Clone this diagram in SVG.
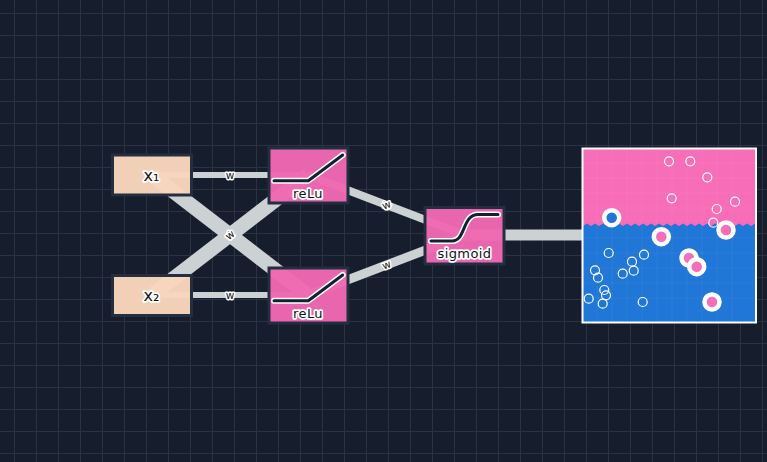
<svg xmlns="http://www.w3.org/2000/svg" width="767" height="462" viewBox="0 0 767 462">
<style>
.bg{fill:#161d2d}
.grid{stroke:#2a3243;stroke-width:1;fill:none}
.c{stroke:#ccd2d3;fill:none}
.n{stroke:#232f40;stroke-width:3}
.input{fill:#f9d6bc;fill-opacity:.97}
.act{fill:#ef68b2;fill-opacity:.97}
.curve{fill:none;stroke-linecap:round;stroke-linejoin:round}
.h{stroke:#fff;stroke-width:6}
.k{stroke:#162033;stroke-width:3}
text{font-family:"DejaVu Sans",sans-serif;fill:#111;text-anchor:middle;paint-order:stroke;stroke:#fff;stroke-linejoin:round}
.t{font-size:13px;stroke-width:3.500;letter-spacing:.4px}
.x{font-size:16px;stroke-width:3.500}
.w{font-size:10.500px;stroke-width:3}
.pt{fill:none;stroke:#fff;stroke-width:1.200}
.big{stroke:#fff;stroke-width:4.500}
.pk{fill:#f76db8}
.bl{fill:#2077d8}
.ig{stroke:#fff;stroke-opacity:.05;stroke-width:1;fill:none}
</style>
<rect class="bg" width="767" height="462"/>
<path class="grid" d="M14.500 0V462M36.500 0V462M58.500 0V462M80.500 0V462M102.500 0V462M124.500 0V462M146.500 0V462M168.500 0V462M190.500 0V462M212.500 0V462M234.500 0V462M256.500 0V462M278.500 0V462M300.500 0V462M322.500 0V462M344.500 0V462M366.500 0V462M388.500 0V462M410.500 0V462M432.500 0V462M454.500 0V462M476.500 0V462M498.500 0V462M520.500 0V462M542.500 0V462M564.500 0V462M586.500 0V462M608.500 0V462M630.500 0V462M652.500 0V462M674.500 0V462M696.500 0V462M718.500 0V462M740.500 0V462M762.500 0V462M0 13.500H767M0 35.500H767M0 57.500H767M0 79.500H767M0 101.500H767M0 123.500H767M0 145.500H767M0 167.500H767M0 189.500H767M0 211.500H767M0 233.500H767M0 255.500H767M0 277.500H767M0 299.500H767M0 321.500H767M0 343.500H767M0 365.500H767M0 387.500H767M0 409.500H767M0 431.500H767M0 453.500H767"/>
<g id="connectors">
<path class="c" stroke-width="6" d="M152 175H308"/>
<path class="c" stroke-width="14.600" d="M152 175L308 295"/>
<path class="c" stroke-width="14.600" d="M152 295L308 175"/>
<path class="c" stroke-width="6" d="M152 295H308"/>
<path class="c" stroke-width="7.800" d="M308 175L465 235"/>
<path class="c" stroke-width="9" d="M308 295L465 235"/>
<path class="c" stroke-width="11" d="M465 235H669"/>
<text class="w" x="230" y="178.500">w</text>
<text class="w" x="230" y="298.500">w</text>
<text class="w" transform="translate(230 235) rotate(37.600)" y="3.500">w</text>
<text class="w" transform="translate(230 235) rotate(-37.600)" y="3.500">w</text>
<text class="w" transform="translate(386.500 205) rotate(20.900)" y="3.500">w</text>
<text class="w" transform="translate(386.500 205) rotate(-20.900)" y="3.500">w</text>
<text class="w" transform="translate(386.500 265) rotate(-20.900)" y="3.500">w</text>
</g>
<g id="x1">
<rect class="n input" x="112.500" y="155" width="79" height="40"/>
<text class="x" x="151.500" y="180.500">x₁</text>
</g>
<g id="x2">
<rect class="n input" x="112.500" y="275.500" width="79" height="40"/>
<text class="x" x="151.500" y="300.500">x₂</text>
</g>
<g id="relu1">
<rect class="n act" x="269" y="148" width="79" height="55"/>
<path class="curve h" d="M274 180.700H308.300L342.700 155"/>
<path class="curve k" d="M274 180.700H308.300L342.700 155"/>
<text class="t" x="308" y="198">reLu</text>
</g>
<g id="relu2">
<rect class="n act" x="269" y="268" width="79" height="55"/>
<path class="curve h" d="M274 300.700H308.300L342.700 275"/>
<path class="curve k" d="M274 300.700H308.300L342.700 275"/>
<text class="t" x="308" y="318">reLu</text>
</g>
<g id="sigmoid">
<rect class="n act" x="425" y="207.500" width="79" height="56.500"/>
<path class="curve h" d="M431 241H452C466 241 462 214.500 478 214.500H498"/>
<path class="curve k" d="M431 241H452C466 241 462 214.500 478 214.500H498"/>
<text class="t" x="464.500" y="258">sigmoid</text>
</g>
<g id="output">
<rect class="pk" x="582.500" y="148.500" width="173.500" height="174"/>
<path class="bl" d="M583 226L587 223.500L591 226L595 223.500L599 226L603 223.500L607 226L611 223.500L615 226L619 223.500L623 226L627 223.500L631 226L635 223.500L639 226L643 223.500L647 226L651 223.500L655 226L659 223.500L663 226L667 223.500L671 226L675 223.500L679 226L683 223.500L687 226L691 223.500L695 226L699 223.500L703 226L707 223.500L711 226L715 223.500L719 226L723 223.500L727 226L731 223.500L735 226L739 223.500L743 226L747 223.500L751 226L755 223.500V322H583Z"/>
<path class="ig" d="M597 149V322M612 149V322M627 149V322M642 149V322M657 149V322M672 149V322M687 149V322M702 149V322M717 149V322M732 149V322M583 163H756M583 178H756M583 193H756M583 208H756M583 238H756M583 253H756M583 268H756M583 283H756M583 298H756"/>
<rect x="582.500" y="148.500" width="173.500" height="174" fill="none" stroke="#fff" stroke-width="2"/>
<circle class="pt" cx="669" cy="161.300" r="4.500"/>
<circle class="pt" cx="690.300" cy="161.300" r="4.500"/>
<circle class="pt" cx="707.300" cy="177.300" r="4.500"/>
<circle class="pt" cx="671.700" cy="198.300" r="4.500"/>
<circle class="pt" cx="716.700" cy="209" r="4.500"/>
<circle class="pt" cx="735" cy="201.700" r="4.500"/>
<circle class="pt" cx="713.300" cy="222.700" r="4.500"/>
<circle class="pt" cx="608.700" cy="253" r="4.500"/>
<circle class="pt" cx="644" cy="254.700" r="4.500"/>
<circle class="pt" cx="632" cy="261.700" r="4.500"/>
<circle class="pt" cx="633.700" cy="270.700" r="4.500"/>
<circle class="pt" cx="622.700" cy="273.700" r="4.500"/>
<circle class="pt" cx="595" cy="270.300" r="4.500"/>
<circle class="pt" cx="598" cy="277.700" r="4.500"/>
<circle class="pt" cx="604.300" cy="290" r="4.500"/>
<circle class="pt" cx="606" cy="295.300" r="4.500"/>
<circle class="pt" cx="602.700" cy="303.700" r="4.500"/>
<circle class="pt" cx="588.700" cy="298.700" r="4.500"/>
<circle class="pt" cx="642.700" cy="302" r="4.500"/>
<circle class="big bl" cx="611.700" cy="217.700" r="7.500"/>
<circle class="big pk" cx="661.300" cy="236.700" r="7.500"/>
<circle class="big pk" cx="726" cy="230" r="7.500"/>
<circle class="big pk" cx="689" cy="258" r="7.500"/>
<circle class="big pk" cx="696.700" cy="266.700" r="7.500"/>
<circle class="big pk" cx="712" cy="302" r="7.500"/>
</g>
</svg>
